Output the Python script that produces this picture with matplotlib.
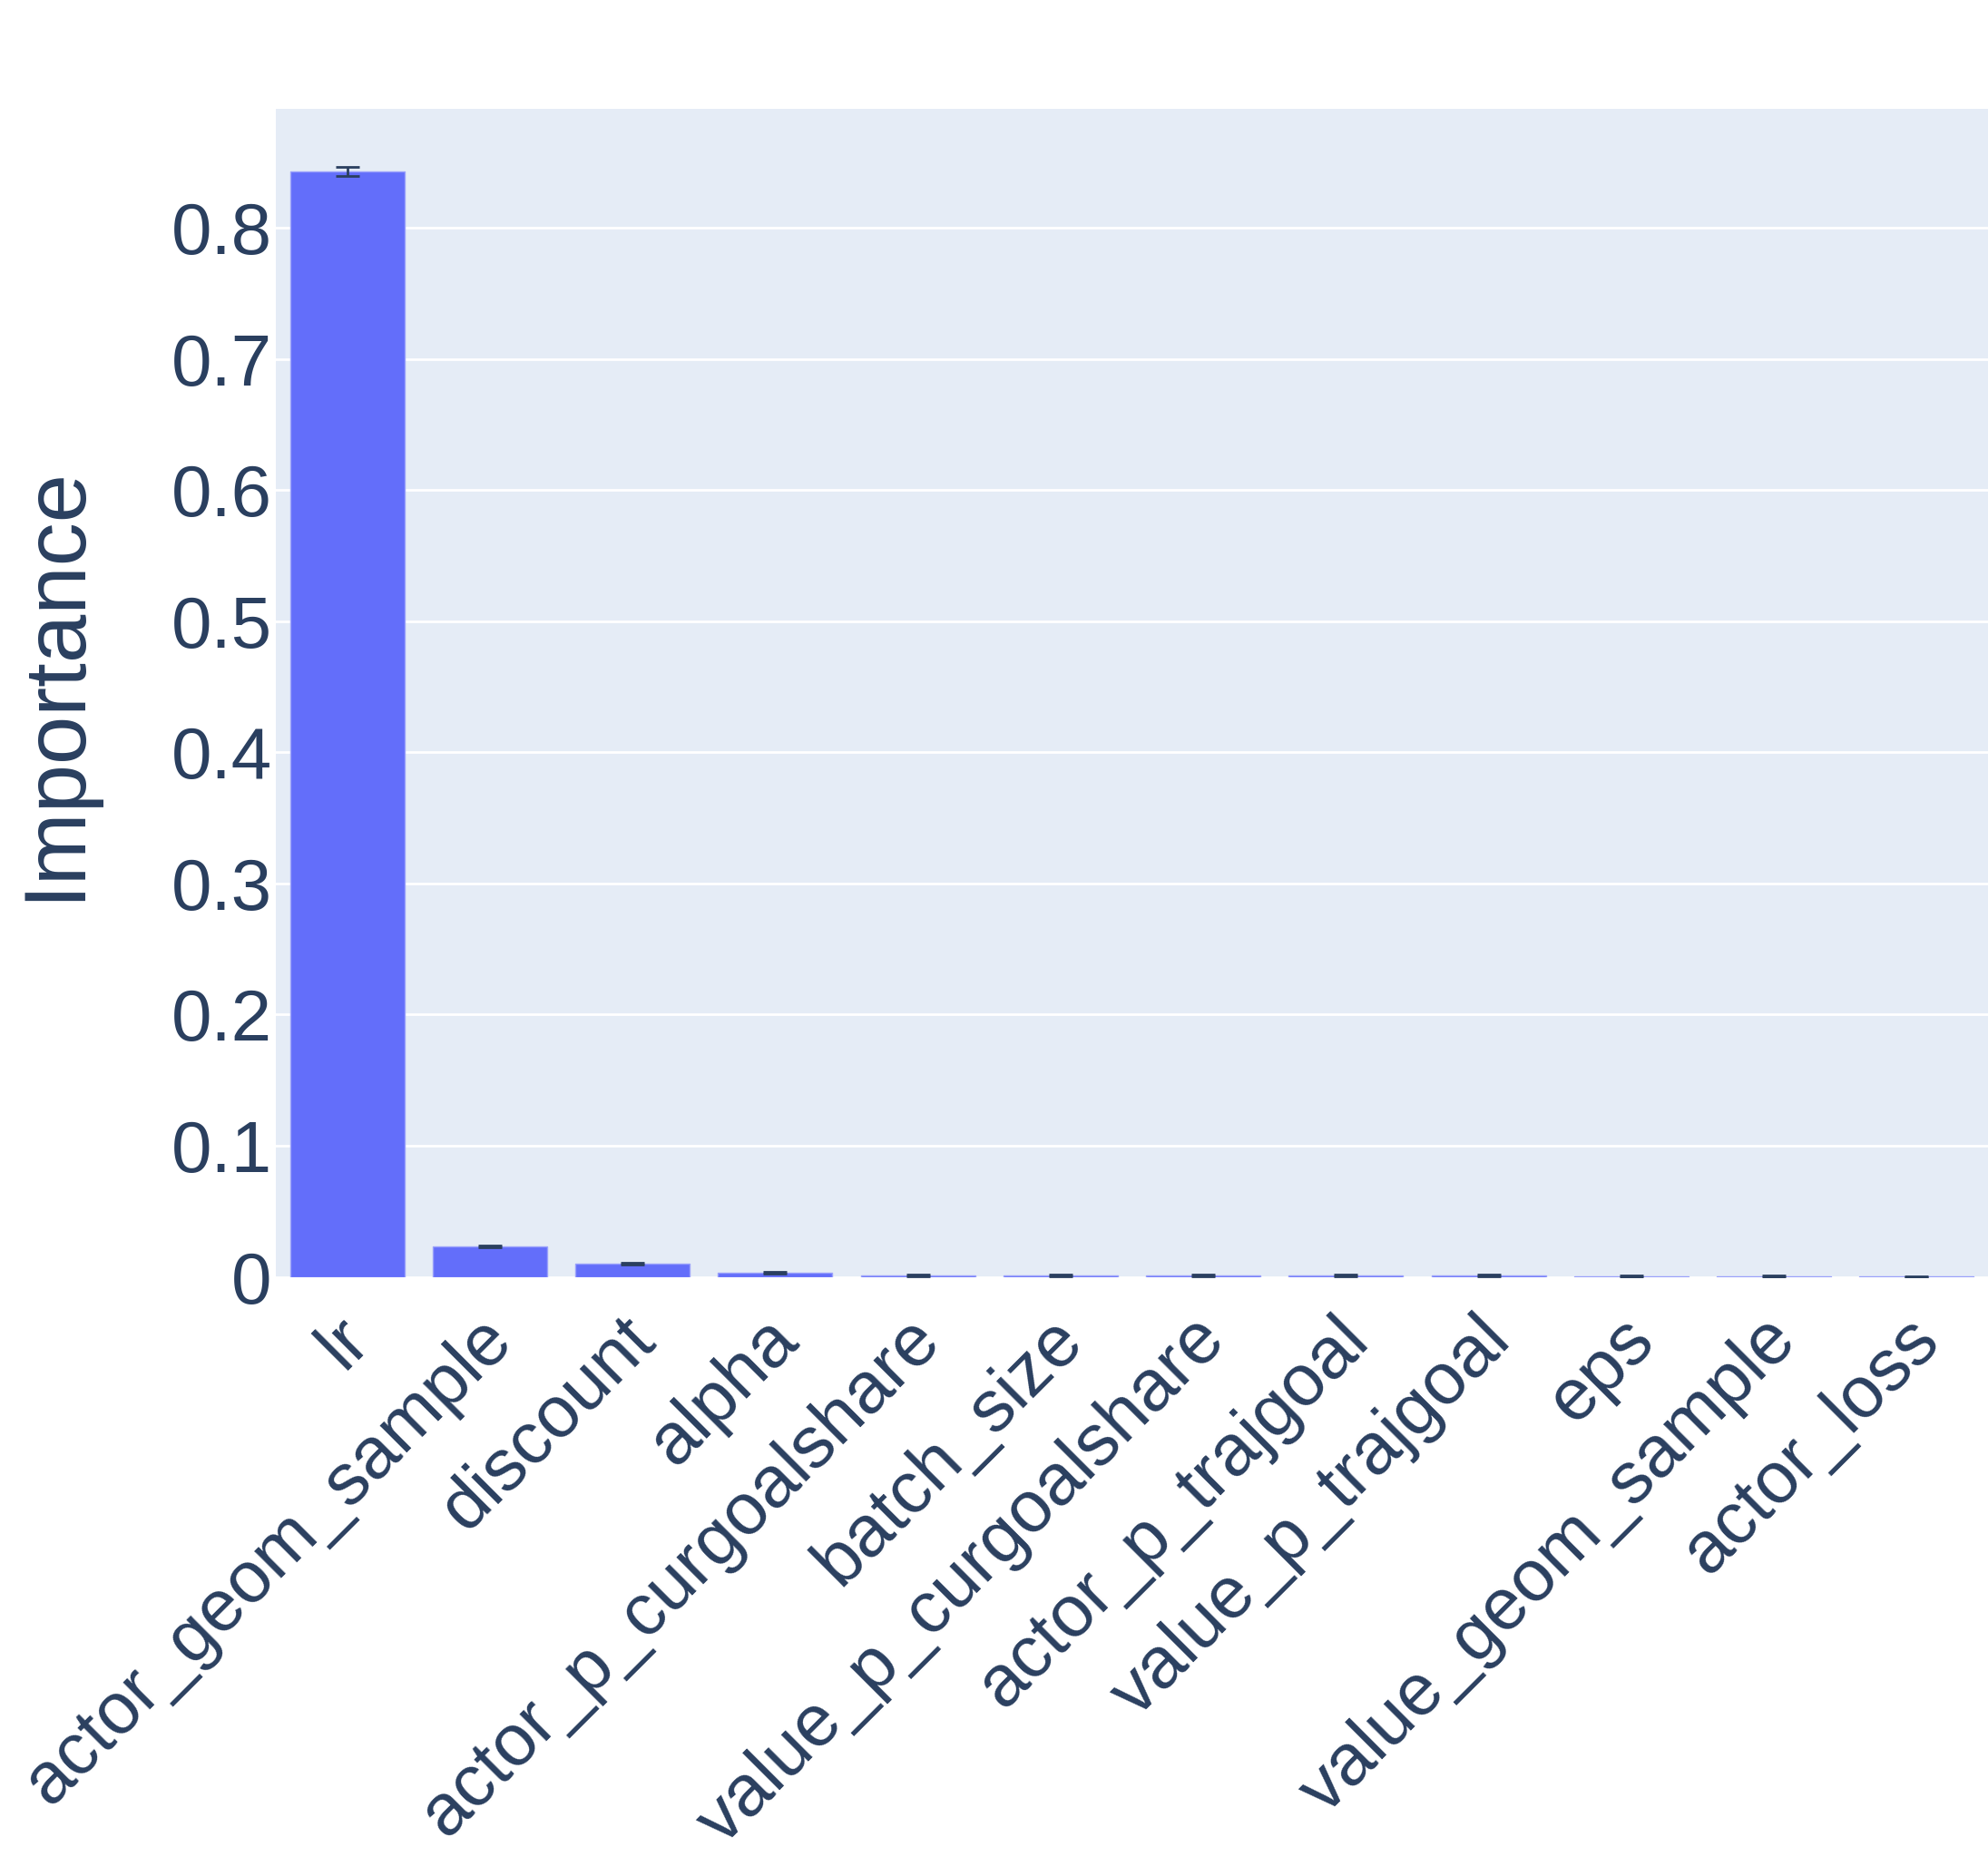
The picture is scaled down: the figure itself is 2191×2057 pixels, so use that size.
import matplotlib.pyplot as plt
import matplotlib.transforms as mtransforms
import numpy as np

params = [
    "lr", "actor_geom_sample", "discount", "alpha", "actor_p_curgoalshare",
    "batch_size", "value_p_curgoalshare", "actor_p_trajgoal", "value_p_trajgoal",
    "eps", "value_geom_sample", "actor_loss",
]
importance = [0.843, 0.023, 0.0098, 0.0031, 0.0012, 0.0011, 0.0011, 0.0010,
              0.0009, 0.0006, 0.0003, 0.0001]
errors = [0.0035, 0.0006, 0.0006, 0.0006, 0.0006, 0.0006, 0.0006, 0.0006,
          0.0006, 0.0006, 0.0004, 0.0004]

text_color = "#2a3f5f"
plt.rcParams["font.family"] = ["Liberation Sans", "DejaVu Sans"]

fig = plt.figure(figsize=(21.91, 20.57), dpi=100)
ax = fig.add_axes([304 / 2191, 1 - 1407.5 / 2057, (2191 - 304) / 2191, (1407.5 - 120) / 2057])
ax.set_facecolor("#e5ecf6")

x = np.arange(len(params))
ax.bar(x, importance, width=0.8, color="#636efa", edgecolor="#9aa1fb", linewidth=1.0,
       zorder=3)
ax.errorbar(x, importance, yerr=errors, fmt="none", ecolor=text_color, elinewidth=2,
            capsize=9.5, capthick=2, zorder=4)

ax.set_xlim(-0.5, len(params) - 0.5)
ax.set_ylim(0, 0.891)
ax.set_yticks(np.arange(0, 0.81, 0.1))
ax.set_yticklabels(["0"] + [f"{v:.1f}" for v in np.arange(0.1, 0.81, 0.1)])
ax.grid(axis="y", color="white", linewidth=2, zorder=1)
ax.set_axisbelow(True)
for s in ax.spines.values():
    s.set_visible(False)
ax.tick_params(axis="both", length=0, labelsize=57.6, labelcolor=text_color)
ax.tick_params(axis="y", pad=3)

ax.set_xticks(x)
ax.set_xticklabels(params, rotation=45, ha="right", va="center", rotation_mode="anchor")
ax.tick_params(axis="x", pad=40)
# nudge rotated labels to the right a little
shift = mtransforms.ScaledTranslation(0.13, -0.02, fig.dpi_scale_trans)
for lbl in ax.get_xticklabels():
    lbl.set_transform(lbl.get_transform() + shift)

ax.set_ylabel("Importance", fontsize=69, color=text_color)
ax.yaxis.set_label_coords(-0.105, 0.508)

fig.savefig("out.png", dpi=100)
